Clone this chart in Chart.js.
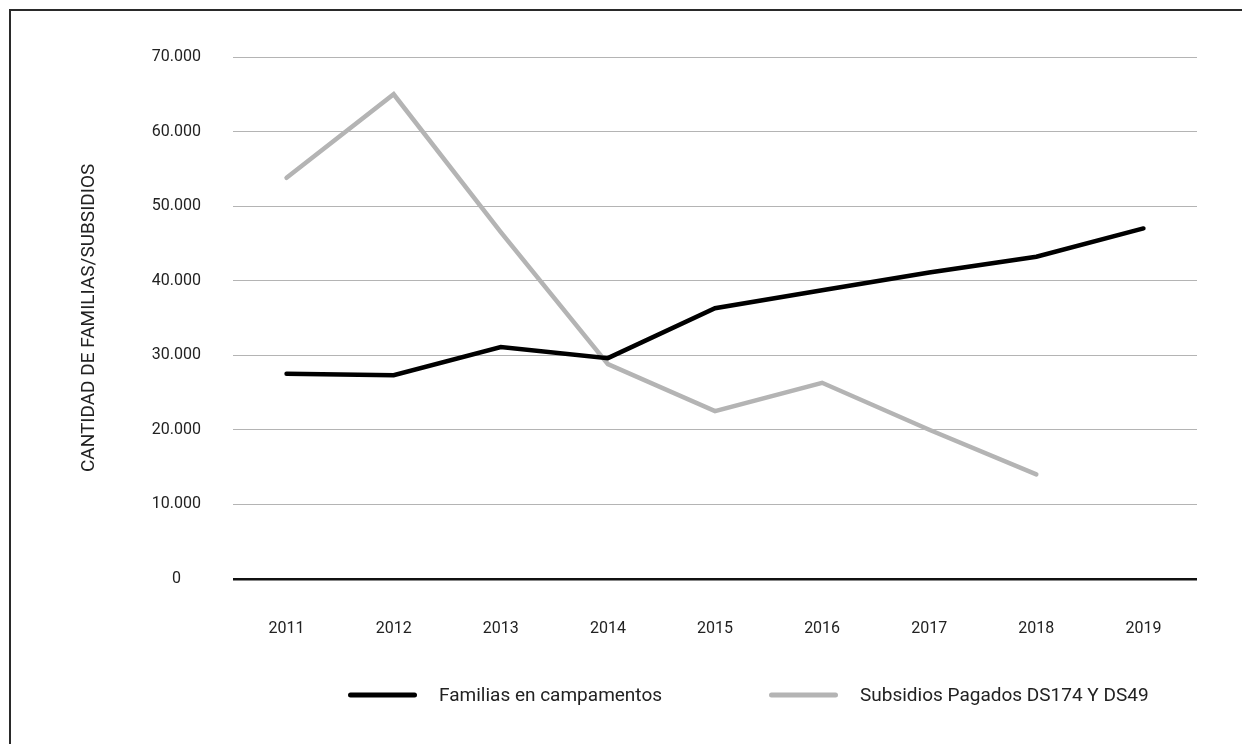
<!DOCTYPE html>
<html>
<head>
<meta charset="utf-8">
<script src="https://cdn.jsdelivr.net/npm/chart.js@4/dist/chart.umd.min.js"></script>
<style>
  html, body { margin: 0; padding: 0; background: #fff; }
  body { width: 1242px; height: 744px; position: relative; overflow: hidden; }
  .frame {
    position: absolute; left: 9px; top: 9px; width: 1400px; height: 900px;
    border-left: 2px solid #2a2a2a; border-top: 2px solid #2a2a2a;
  }
  #chart { position: absolute; left: 0; top: 0; }
</style>
</head>
<body>
<div class="frame"></div>
<canvas id="chart" width="1242" height="744"></canvas>
<script>
// ---- data ----
var years = ['2011', '2012', '2013', '2014', '2015', '2016', '2017', '2018', '2019'];
var familias = [27500, 27300, 31100, 29600, 36300, 38700, 41100, 43200, 47000];
var subsidios = [53800, 65000, 46500, 28800, 22500, 26300, 20000, 14000, null];
var seriesNames = ['Familias en campamentos', 'Subsidios Pagados DS174 Y DS49'];
var yTitle = 'CANTIDAD DE FAMILIAS/SUBSIDIOS';

var FONT = 'Roboto, "Liberation Sans", sans-serif';
var TEXT = '#222';

// thousands with a dot: 70000 -> 70.000
function formatMiles(v) {
  return String(v).replace(/\B(?=(\d{3})+(?!\d))/g, '.');
}

// legend drawn under the axis, lines with round caps
var lineLegend = {
  id: 'lineLegend',
  afterDraw: function(chart, args, opts) {
    var ctx = chart.ctx;
    ctx.save();
    chart.data.datasets.forEach(function(ds, i) {
      var x = opts.x[i];
      ctx.strokeStyle = ds.borderColor;
      ctx.lineWidth = 5;
      ctx.lineCap = 'round';
      ctx.beginPath();
      ctx.moveTo(x + 2.5, opts.y);
      ctx.lineTo(x + 66.5, opts.y);
      ctx.stroke();
      ctx.fillStyle = TEXT;
      ctx.font = opts.fontSize + 'px ' + FONT;
      ctx.textBaseline = 'middle';
      ctx.textAlign = 'left';
      ctx.fillText(ds.label, x + 91, opts.y + 1);
    });
    ctx.restore();
  }
};

var ctx = document.getElementById('chart').getContext('2d');
var chart = new Chart(ctx, {
  type: 'line',
  data: {
    labels: years,
    datasets: [{
      label: seriesNames[0],
      data: familias,
      borderColor: '#000000',
      borderWidth: 4.5,
      borderCapStyle: 'round',
      pointRadius: 0,
      tension: 0
    }, {
      label: seriesNames[1],
      data: subsidios,
      borderColor: '#b4b4b4',
      borderWidth: 4.5,
      borderCapStyle: 'round',
      pointRadius: 0,
      tension: 0
    }]
  },
  options: {
    responsive: false,
    animation: false,
    devicePixelRatio: 1,
    layout: {
      padding: { left: 72, right: 45, top: 57, bottom: 64 }
    },
    plugins: {
      legend: { display: false },
      tooltip: { enabled: false },
      lineLegend: { x: [348, 769], y: 695, fontSize: 19 }
    },
    scales: {
      x: {
        offset: true,
        grid: { display: false, drawTicks: false },
        border: { display: false },
        ticks: {
          padding: 41,
          color: TEXT,
          font: { family: FONT, size: 16 }
        }
      },
      y: {
        min: 0,
        max: 70000,
        afterFit: function(scale) { scale.width = 233 - 72; },
        grid: {
          drawTicks: false,
          color: function(c) { return c.tick.value === 0 ? '#111111' : '#b4b4b4'; },
          lineWidth: function(c) { return c.tick.value === 0 ? 2.5 : 1; }
        },
        border: { display: false },
        ticks: {
          stepSize: 10000,
          padding: 32,
          crossAlign: 'center',
          color: TEXT,
          font: { family: FONT, size: 16 },
          callback: function(v) { return formatMiles(v); }
        },
        title: {
          display: true,
          text: yTitle,
          color: TEXT,
          padding: { top: 6, bottom: 0 },
          font: { family: FONT, size: 19 }
        }
      }
    }
  },
  plugins: [lineLegend]
});
</script>
</body>
</html>
